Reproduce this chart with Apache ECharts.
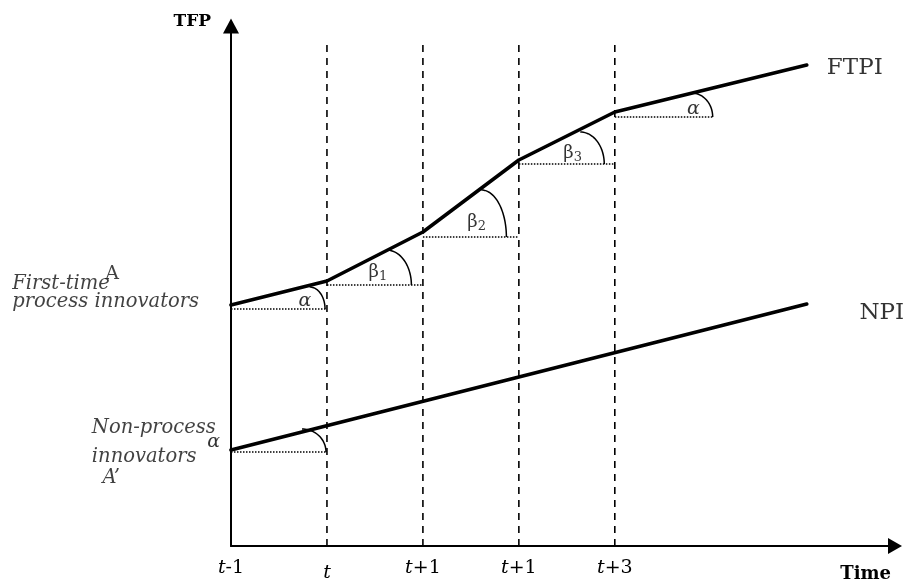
<!DOCTYPE html>
<html>
<head>
<meta charset="utf-8">
<script src="https://cdn.jsdelivr.net/npm/echarts@6/dist/echarts.min.js"></script>
<style>
html,body{margin:0;padding:0;background:#fff;}
#chart{width:906px;height:582px;}
</style>
</head>
<body>
<div id="chart"></div>
<script>
// ---- data (x: time periods, t-1 = 0; y: TFP level, arbitrary units) ----
const tickPositions = [0, 1, 2, 3, 4];
const tickLabels = ['t-1', 't', 't+1', 't+1', 't+3'];

const ftpiX = [0, 1, 2, 3, 4, 6];
const ftpiY = [24.1, 26.5, 31.4, 38.6, 43.4, 48.1];

const npiX = [0, 6];
const npiY = [9.6, 24.2];

// vertical dashed period lines
const periodLineX = [1, 2, 3, 4];
const periodLineTop = 50.6;

// dotted horizontal reference segments: [xFrom, xTo, y]
const refSegFrom = [0, 1, 2, 3, 4, 0];
const refSegTo   = [1, 2, 3, 4, 5.02, 1];
const refSegY    = [23.7, 26.1, 30.9, 38.2, 42.9, 9.4];

// angle arcs: point on the line (xStart, yTop) to point on dotted line (xEnd, yBase)
const arcXStart = [0.82, 1.62, 2.61, 3.64, 4.80, 0.74];
const arcXEnd   = [0.98, 1.88, 2.87, 3.89, 5.02, 0.99];
const arcYTop   = [25.9, 29.6, 35.6, 41.4, 45.3, 11.7];
const arcYBase  = [23.7, 26.1, 30.9, 38.2, 42.9, 9.4];

// angle labels
const angleText = ['α', 'β|1', 'β|2', 'β|3', 'α', 'α'];
const angleX = [0.77, 1.53, 2.56, 3.56, 4.82, -0.18];
const angleY = [24.45, 27.35, 32.35, 39.25, 43.65, 10.35];

// annotation texts
const annoText = ['First-time', 'A', 'process innovators', 'Non-process', 'innovators', 'A’', 'FTPI', 'NPI'];
const annoX = [-2.28, -1.31, -2.28, -1.45, -1.45, -1.34, 6.21, 6.55];
const annoY = [26.2, 27.15, 24.45, 11.85, 8.95, 6.85, 47.8, 23.3];
const annoStyle = ['it', 'up', 'it', 'it', 'it', 'it', 'big', 'big'];

// ---- build chart ----
const chart = echarts.init(document.getElementById('chart'), null, {renderer: 'canvas'});
const SERIF = '"DejaVu Serif", serif';

const series = [];

periodLineX.forEach(function (x) {
  series.push({
    type: 'line', data: [[x, 0], [x, periodLineTop]], symbol: 'none', silent: true,
    lineStyle: {color: '#000', width: 1.6, type: [7, 6]}, z: 2
  });
});

refSegY.forEach(function (y, i) {
  series.push({
    type: 'line', data: [[refSegFrom[i], y], [refSegTo[i], y]], symbol: 'none', silent: true,
    lineStyle: {color: '#000', width: 1.4, type: [1.5, 1.5]}, z: 2
  });
});

series.push({
  type: 'line', data: ftpiX.map(function (x, i) { return [x, ftpiY[i]]; }),
  symbol: 'none', silent: true, lineStyle: {color: '#000', width: 3.6, cap: 'round', join: 'round'}, z: 5
});
series.push({
  type: 'line', data: npiX.map(function (x, i) { return [x, npiY[i]]; }),
  symbol: 'none', silent: true, lineStyle: {color: '#000', width: 3.6, cap: 'round'}, z: 5
});

series.push({
  type: 'custom', silent: true, z: 4,
  data: arcXStart.map(function (x, i) { return [x, arcYTop[i], arcXEnd[i], arcYBase[i]]; }),
  renderItem: function (params, api) {
    const p1 = api.coord([api.value(0), api.value(1)]);
    const p2 = api.coord([api.value(2), api.value(3)]);
    const cx = p1[0], cy = p2[1];
    const rx = p2[0] - p1[0], ry = p2[1] - p1[1];
    const pts = [];
    const n = 24;
    for (let k = 0; k <= n; k++) {
      const a = -Math.PI / 2 + (Math.PI / 2) * k / n;
      pts.push([cx + rx * Math.cos(a), cy + ry * Math.sin(a)]);
    }
    return {type: 'polyline', shape: {points: pts}, style: {stroke: '#000', lineWidth: 1.5, fill: null}};
  }
});

series.push({
  type: 'scatter', symbolSize: 0, silent: true, clip: false, z: 6,
  data: angleText.map(function (t, i) { return {value: [angleX[i], angleY[i]], name: t}; }),
  label: {
    show: true, position: 'inside',
    formatter: function (p) {
      const parts = p.name.split('|');
      if (parts[0] === 'α') return '{a|α}';
      return '{b|β}{s|' + parts[1] + '}';
    },
    rich: {
      a: {fontFamily: SERIF, fontStyle: 'italic', fontSize: 19, color: '#000'},
      b: {fontFamily: SERIF, fontSize: 18, color: '#000', lineHeight: 22},
      s: {fontFamily: SERIF, fontSize: 13, color: '#000', verticalAlign: 'bottom', lineHeight: 14}
    }
  }
});

series.push({
  type: 'scatter', symbolSize: 0, silent: true, clip: false, z: 6,
  data: annoText.map(function (t, i) { return {value: [annoX[i], annoY[i]], name: t}; }),
  label: {
    show: true, position: 'right', distance: 0,
    formatter: function (p) {
      const st = annoStyle[p.dataIndex];
      return '{' + st + '|' + p.name + '}';
    },
    rich: {
      it: {fontFamily: SERIF, fontStyle: 'italic', fontSize: 19.5, color: '#111'},
      up: {fontFamily: SERIF, fontSize: 19, color: '#111'},
      big: {fontFamily: SERIF, fontSize: 23, color: '#000'}
    }
  }
});

chart.setOption({
  animation: false,
  backgroundColor: '#fff',
  grid: {left: 231, right: 11, top: 26, bottom: 36, containLabel: false, outerBoundsMode: 'none'},
  xAxis: {
    type: 'value', min: 0, max: 6.92, interval: 1,
    splitLine: {show: false}, axisTick: {show: false},
    name: 'Time', nameLocation: 'end', nameGap: 0,
    nameTextStyle: {fontFamily: SERIF, fontWeight: 'bold', fontSize: 18, color: '#000',
      align: 'right', verticalAlign: 'top', padding: [19, 4, 0, 0]},
    axisLine: {show: true, lineStyle: {color: '#000', width: 2}, symbol: ['none', 'triangle'], symbolSize: [16, 14]},
    axisLabel: {
      show: true, margin: 13, showMaxLabel: false,
      formatter: function (v) {
        const idx = tickPositions.indexOf(Math.round(v * 100) / 100);
        if (idx < 0) return '';
        const lab = tickLabels[idx];
        if (lab === 't') return '{lo|t}';
        return '{i|t}{n|' + lab.slice(1) + '}';
      },
      rich: {
        i: {fontFamily: SERIF, fontStyle: 'italic', fontSize: 19, color: '#000'},
        n: {fontFamily: SERIF, fontSize: 19, color: '#000'},
        lo: {fontFamily: SERIF, fontStyle: 'italic', fontSize: 19, color: '#000', padding: [5, 0, 0, 0]}
      }
    }
  },
  yAxis: {
    type: 'value', min: 0, max: 52,
    splitLine: {show: false}, axisTick: {show: false}, axisLabel: {show: false},
    name: 'TFP', nameLocation: 'end', nameGap: 4,
    nameTextStyle: {fontFamily: SERIF, fontWeight: 'bold', fontSize: 17, color: '#000',
      align: 'right', verticalAlign: 'middle', padding: [0, 20, 0, 0]},
    axisLine: {show: true, lineStyle: {color: '#000', width: 2}, symbol: ['none', 'triangle'], symbolSize: [16, 15]}
  },
  series: series
});
</script>
</body>
</html>
